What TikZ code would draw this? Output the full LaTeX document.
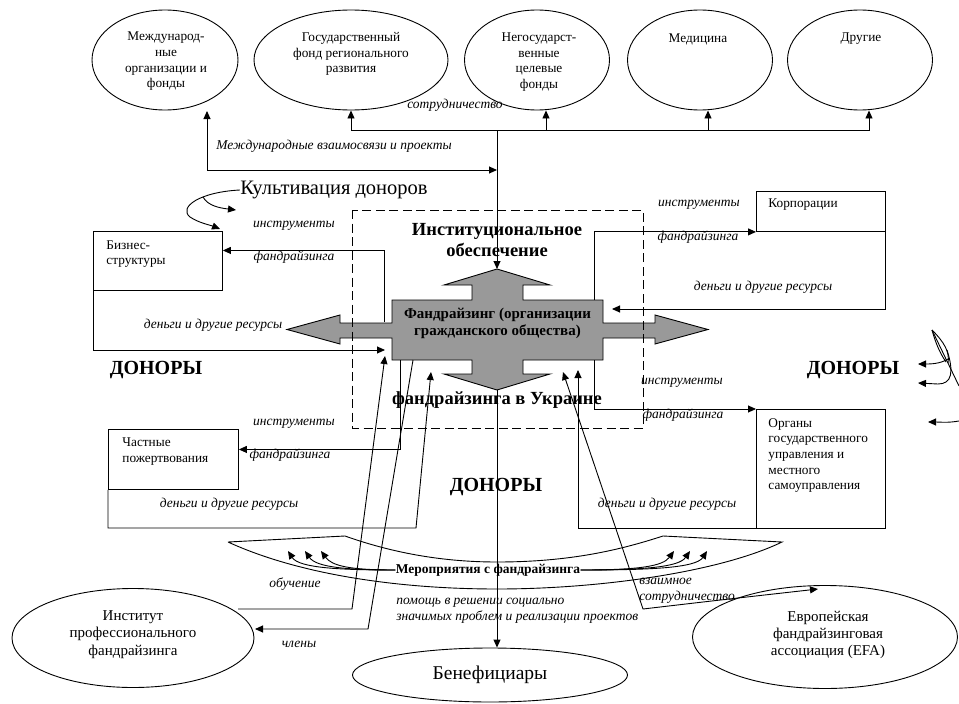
\documentclass[tikz,border=0pt]{standalone}
\usepackage{fontspec}
\setmainfont{Liberation Serif}
\usetikzlibrary{arrows.meta,shapes.geometric}

\begin{document}
\begin{tikzpicture}[x=1pt,y=-1pt,line width=0.9pt,
	arr/.style={-{Triangle[length=8pt,width=7pt]}},
	arrs/.style={{Triangle[length=8pt,width=7pt]}-{Triangle[length=8pt,width=7pt]}},
	oval/.style={draw,ellipse,inner sep=0pt},
	box/.style={draw,rectangle,inner sep=0pt,anchor=north west},
	txt/.style={font=\fontsize{13.3}{15.7}\selectfont,inner sep=0pt},
	lbl/.style={font=\fontsize{13.5}{16}\selectfont\itshape,inner sep=0pt},
	head/.style={font=\fontsize{18.5}{21}\selectfont\bfseries,inner sep=0pt,align=center},
	donor/.style={font=\fontsize{20}{22}\selectfont\bfseries,inner sep=0pt}]
	\useasboundingbox (0,0) rectangle (959,704);
	
	% top row of partners
	\node[oval,minimum width=146pt,minimum height=100pt] (intl) at (165,60) {};
	\node[oval,minimum width=194pt,minimum height=100pt] (gosf) at (351,60) {};
	\node[oval,minimum width=145pt,minimum height=100pt] (ngo)  at (537,60) {};
	\node[oval,minimum width=145pt,minimum height=100pt] (med)  at (700,60) {};
	\node[oval,minimum width=145pt,minimum height=100pt] (oth)  at (860,60) {};
	\node[txt,align=center] (intltx) at (166,61.5) {Международ-\\ные\\организации и\\фонды};
	\node[txt,align=center] (gosftx) at (351,54) {Государственный\\фонд регионального\\развития};
	\node[txt,align=center] (ngotx)  at (539,62) {Негосударст-\\венные\\целевые\\фонды};
	\node[txt] (medtx) at (698,39) {Медицина};
	\node[txt] (othtx) at (861,39) {Другие};
	
	% central figure
	\filldraw[fill=black!40] (497,269) -- (550,285) -- (523,285) -- (523,300) -- (603,300) -- (603,323) -- (655,323) -- (655,315) -- (708,329.5) -- (655,344) -- (655,338) -- (603,338) -- (603,360) -- (523,360) -- (523,374) -- (550,374) -- (497,390) -- (444,374) -- (472,374) -- (472,360) -- (392,360) -- (392,338) -- (340,338) -- (340,344) -- (287,329.5) -- (340,315) -- (340,323) -- (392,323) -- (392,300) -- (472,300) -- (472,285) -- (444,285) -- cycle;
	\node[font=\fontsize{15}{17}\selectfont\bfseries,align=center,inner sep=0pt] (core) at (497.5,323.5) {Фандрайзинг (организации\\гражданского общества)};
	\draw[dash pattern=on 9pt off 4.5pt] (352,210) rectangle (643,428);
	\node[head] (inst1) at (497,240.5) {Институциональное\\обеспечение};
	\node[head] (inst2) at (497,400) {фандрайзинга в Украине};
	
	\coordinate (cN) at (497,269);
	\coordinate (cS) at (497,390);
	\coordinate (bus) at (497,130);
	\coordinate (intlhub) at (497,170);
	\coordinate (intlend) at (207,111);
	
	% donors
	\node[box,minimum width=129pt,minimum height=59pt] (biz)  at (93,231) {};
	\node[box,minimum width=129pt,minimum height=40pt] (corp) at (756,191) {};
	\node[box,minimum width=129pt,minimum height=119pt] (org) at (756,409) {};
	\node[box,minimum width=130pt,minimum height=60pt] (priv) at (108,429) {};
	\node[txt,align=left,anchor=west] (biztx)  at (106,254) {Бизнес-\\структуры};
	\node[txt,anchor=west] (corptx) at (768,205) {Корпорации};
	\node[txt,align=left,anchor=west] (orgtx) at (768,455.5) {Органы\\государственного\\управления и\\местного\\самоуправления};
	\node[txt,align=left,anchor=west] (privtx) at (122,451.5) {Частные\\пожертвования};
	\node[donor] (donl) at (156,370) {ДОНОРЫ};
	\node[donor] (donr) at (853,370) {ДОНОРЫ};
	\node[donor] (donc) at (496,487) {ДОНОРЫ};
	
	% events and other partners
	\draw (228,542) -- (345,536) .. controls (390,552) and (440,562) .. (497,562) .. controls (570,562) and (620,550) .. (663,536) -- (782,542) .. controls (720,572) and (600,589) .. (497,589) .. controls (400,589) and (300,575) .. (228,542);
	\node[font=\fontsize{13.5}{16}\selectfont\bfseries,inner sep=0pt] (event) at (488,570) {Мероприятия с фандрайзинга};
	\node[oval,minimum width=242pt,minimum height=99pt] (inst) at (133,638) {};
	\node[txt,font=\fontsize{15}{17.5}\selectfont,align=center] (insttx) at (133,634.5) {Институт\\профессионального\\фандрайзинга};
	\node[oval,minimum width=265pt,minimum height=103pt] (efa) at (825,637) {};
	\node[txt,font=\fontsize{15}{17}\selectfont,align=center] (efatx) at (828,635) {Европейская\\фандрайзинговая\\ассоциация (EFA)};
	\node[oval,minimum width=275pt,minimum height=54pt] (benef) at (490,675) {};
	\node[font=\fontsize{19.5}{22}\selectfont,inner sep=0pt] (beneftx) at (490,675) {Бенефициары};
	\node[font=\fontsize{20.5}{22}\selectfont,inner sep=0pt] (cult) at (334,190) {Культивация доноров};
	
	% connectors
	\draw[arr] (bus) -| (gosf.south);
	\draw[arr] (bus) -| ([xshift=9pt]ngo.south);
	\draw[arr] (bus) -| ([xshift=8pt]med.south);
	\draw[arr] (bus) -| ([xshift=9pt]oth.south);
	\draw[arr] (bus) -- (cN);
	\draw[arrs] (intlend) |- (intlhub);
	
	\coordinate (bizsrc) at (384,322);
	\coordinate (bizin) at (385,350);
	\draw[arr] (bizsrc) |- ([yshift=10.5pt]biz.east);
	\draw[arr] (biz.south west) |- (bizin);
	
	\coordinate (corpsrc) at (594,300);
	\coordinate (corpin) at (612,309);
	\draw[arr] (corpsrc) |- (corp.south west);
	\draw[arr] (corp.south east) |- (corpin);
	
	\coordinate (orgsrc) at (594,360);
	\coordinate (orgin) at (578,370);
	\draw[arr] (orgsrc) |- (org.north west);
	\draw[arr] (org.south west) -| (orgin);
	
	\coordinate (privsrc) at (400,360);
	\coordinate (privbend) at (416,528);
	\coordinate (privin) at (431,372);
	\draw[arr] (privsrc) |- ([yshift=10pt]priv.east);
	\draw[arr] (priv.south west) |- (privbend) -- (privin);
	
	\coordinate (studysrc) at (238,609);
	\coordinate (studybend) at (352,609);
	\coordinate (studyin) at (385,356);
	\draw[arr] (studysrc) -- (studybend) -- (studyin);
	\coordinate (memsrc) at (413,360);
	\coordinate (membend) at (368,629);
	\coordinate (memin) at (255,629);
	\draw[arr] (memsrc) -- (membend) -- (memin);
	
	\coordinate (efasrc) at (563,372);
	\coordinate (efabend) at (643,609);
	\coordinate (efain) at (818,589);
	\draw[arrs] (efasrc) -- (efabend) .. controls (720,600) .. (efain);
	
	\draw[arr] (cS) -- (cS |- benef.north);
	
	% fans round the events
	\draw[arr] (event.west) .. controls (350,570) and (332,566) .. (321,551);
	\draw[arr] (event.west) .. controls (345,570) and (316,567) .. (305,551);
	\draw[arr] (event.west) .. controls (340,570) and (299,568) .. (288,551);
	\draw[arr] (event.east) .. controls (640,570) and (663,566) .. (674,551);
	\draw[arr] (event.east) .. controls (645,570) and (679,567) .. (690,551);
	\draw[arr] (event.east) .. controls (650,570) and (696,568) .. (707,551);
	
	% donor cultivation strokes
	\draw[arr] (cult.west) .. controls (200,192) and (178,207) .. (190,217) .. controls (199,223) and (210,225) .. (220,229);
	\draw[arr] (203,197) .. controls (208,206) and (220,208) .. (236,210);
	\draw (932,330) .. controls (944,342) and (950,352) .. (948,363);
	\draw (932,330) .. controls (937,348) and (942,356) .. (946,362);
	\draw (932,330) -- (959,386);
	\draw[arr] (948,359) .. controls (940,364) and (930,364) .. (918,364);
	\draw[arr] (947,350) .. controls (954,372) and (952,384) .. (938,384) -- (918,383);
	\draw[arr] (959,421) .. controls (948,423) and (940,422) .. (928,422);
	
	% labels
	\node[lbl] (coop) at (455,105) {сотрудничество};
	\node[lbl] (links) at (334,146) {Международные взаимосвязи и проекты};
	\node[lbl] (bizl1) at (294,226) {инструменты};
	\node[lbl] (bizl2) at (294,257) {фандрайзинга};
	\node[lbl] (bizl3) at (213,325) {деньги и другие ресурсы};
	\node[lbl] (corpl1) at (699,205) {инструменты};
	\node[lbl] (corpl2) at (698,237) {фандрайзинга};
	\node[lbl] (corpl3) at (763,287) {деньги и другие ресурсы};
	\node[lbl] (orgl1) at (682,383) {инструменты};
	\node[lbl] (orgl2) at (683,415) {фандрайзинга};
	\node[lbl] (orgl3) at (667,504) {деньги и другие ресурсы};
	\node[lbl] (privl1) at (294,424) {инструменты};
	\node[lbl] (privl2) at (290,455) {фандрайзинга};
	\node[lbl] (privl3) at (229,504) {деньги и другие ресурсы};
	\node[lbl] (study) at (295,584) {обучение};
	\node[lbl] (members) at (299,644) {члены};
	\node[lbl,align=left,anchor=west] (help) at (396,611) {помощь в решении социально\\значимых проблем и реализации проектов};
	\node[lbl,align=left,anchor=west] (mutual) at (639,591) {взаимное\\сотрудничество};
\end{tikzpicture}
\end{document}
